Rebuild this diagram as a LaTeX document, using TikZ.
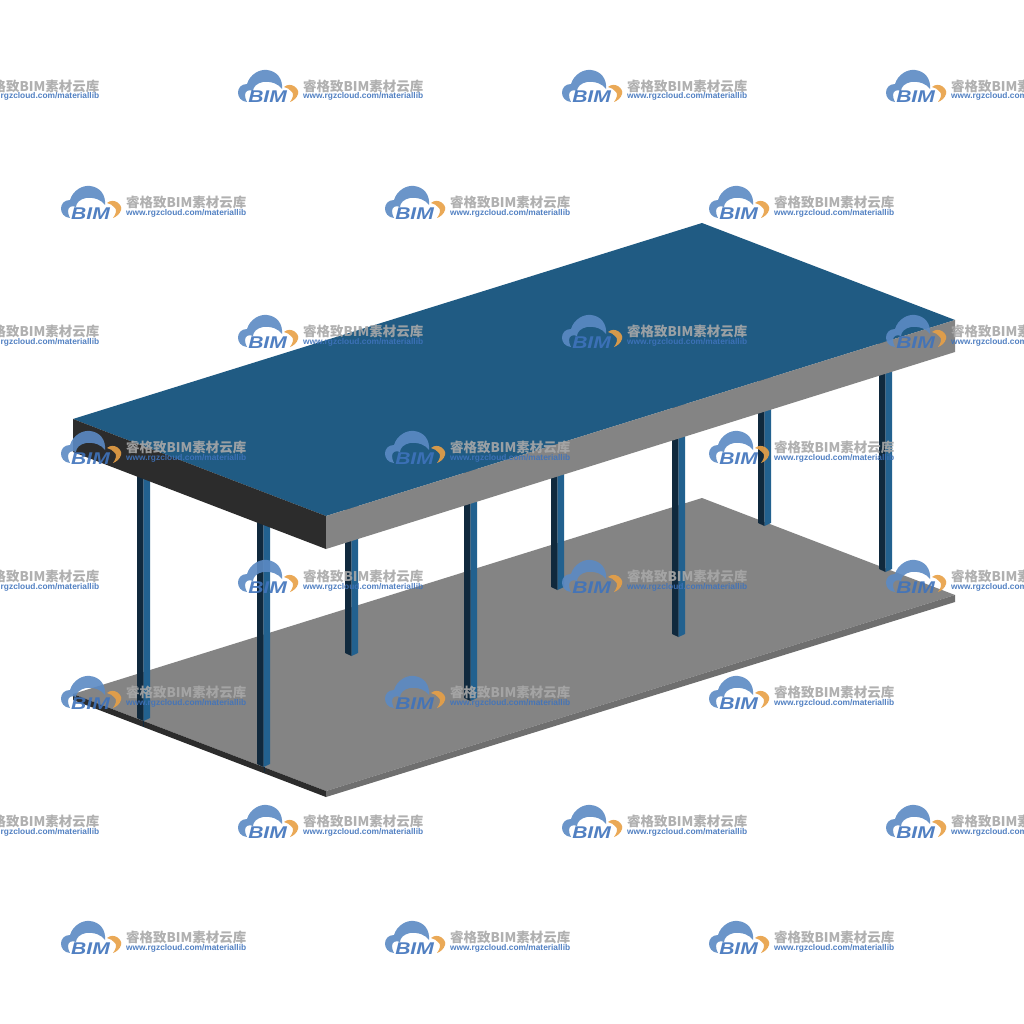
\documentclass[tikz,border=0pt]{standalone}
\usepackage{graphicx}
\usepackage{fontspec}
\setmainfont{Liberation Sans}
\newfontfamily\cjkfont{Noto Sans CJK SC}
\usetikzlibrary{positioning}

\definecolor{roofblue}{HTML}{205B83}
\definecolor{colblue}{HTML}{22618F}
\definecolor{coldark}{HTML}{10293D}
\definecolor{sidedark}{HTML}{2C2C2C}
\definecolor{slabgrey}{HTML}{848484}
\definecolor{edgegrey}{HTML}{6F6F6F}
\definecolor{logoblue}{HTML}{5B8AC4}
\definecolor{logotext}{HTML}{3F73BC}
\definecolor{logoorange}{HTML}{E8A045}
\definecolor{logogrey}{HTML}{A8A8A8}

\begin{document}
\begin{tikzpicture}[x=1pt,y=-1pt]
	\tikzstyle{face}=[draw=none]
	\tikzstyle{logotxt}=[inner sep=0pt,anchor=base west,opacity=.9]
	\tikzset{
		bimlogo/.pic={
			\fill[logoblue,opacity=.9]
				(9,32) .. controls (-3,31) and (-3,14) .. (9,14)
				.. controls (12,4) and (22,-1) .. (29,0)
				.. controls (39,1) and (45,9) .. (44,19)
				.. controls (41,14) and (33,11) .. (25,12)
				.. controls (19,13) and (15,17) .. (15,21)
				.. controls (11,19) and (7,21) .. (7,25)
				.. controls (7,28) and (8,30) .. (9,32) -- cycle;
			\fill[logoorange,opacity=.9]
				(46,17) .. controls (53,11) and (62,19) .. (60,24)
				.. controls (59,28) and (55,31) .. (52,32)
				.. controls (55,28) and (56,24) .. (54,22)
				.. controls (52,19) and (49,18) .. (46,17) -- cycle;
			\node[logotxt,text=logotext,xscale=1.24] (bim) at (10,33)
				{\fontsize{17}{17}\selectfont\bfseries\itshape BIM};
			\node[logotxt,text=logogrey] (name) at (65,21.5)
				{\resizebox{120pt}{11.5pt}{\cjkfont\bfseries 睿格致BIM素材云库}};
			\node[logotxt,text=logotext] (url) at (65,29)
				{\resizebox{120pt}{!}{\fontsize{8}{8}\selectfont\bfseries www.rgzcloud.com/materiallib}};
		}
	}

	\clip (0,0) rectangle (1024,1024);
	\fill[white] (0,0) rectangle (1024,1024);

	% base slab
	\coordinate (bl) at (73,694);
	\coordinate (bb) at (702,498);
	\coordinate (br) at (955,595);
	\coordinate (bf) at (326,791);
	\coordinate (blu) at (73,700);
	\coordinate (bru) at (955,602);
	\coordinate (bfu) at (326,797);
	\fill[face,slabgrey] (bl) -- (bb) -- (br) -- (bf) -- cycle;
	\fill[face,sidedark] (bl) -- (bf) -- (bfu) -- (blu) -- cycle;
	\fill[face,edgegrey] (bf) -- (br) -- (bru) -- (bfu) -- cycle;
	\draw[coldark,thin] (143.5,721) -- (143.5,727) (264,767) -- (264,772);

	% columns
	\foreach \x/\y in {137/721,257/767,345/656,464/701,551/590,672/637,758/526,879/572}{
		\fill[face,coldark] (\x,\y-3) -- (\x,\y-255) -- (\x+6.5,\y-255) -- (\x+6.5,\y) -- cycle;
		\fill[face,colblue] (\x+6.5,\y) -- (\x+6.5,\y-255) -- (\x+13,\y-255) -- (\x+13,\y-3) -- cycle;
	}

	% canopy
	\coordinate (tl) at (73,419);
	\coordinate (tb) at (702,223);
	\coordinate (tr) at (955,320);
	\coordinate (tf) at (326,516);
	\coordinate (tlu) at (73,452);
	\coordinate (tru) at (955,352);
	\coordinate (tfu) at (326,549);
	\fill[face,roofblue] (tl) -- (tb) -- (tr) -- (tf) -- cycle;
	\fill[face,sidedark] (tl) -- (tf) -- (tfu) -- (tlu) -- cycle;
	\fill[face,slabgrey] (tf) -- (tr) -- (tru) -- (tfu) -- cycle;

	% watermark
	\foreach \r/\y in {a/70,b/315,c/560,d/805}
		\foreach \x in {-86,238,562,886}
			\pic (logo\r\x) at (\x,\y) {bimlogo};
	\foreach \r/\y in {e/186,f/431,g/676,h/921}
		\foreach \x in {61,385,709}
			\pic (logo\r\x) at (\x,\y) {bimlogo};
\end{tikzpicture}
\end{document}
